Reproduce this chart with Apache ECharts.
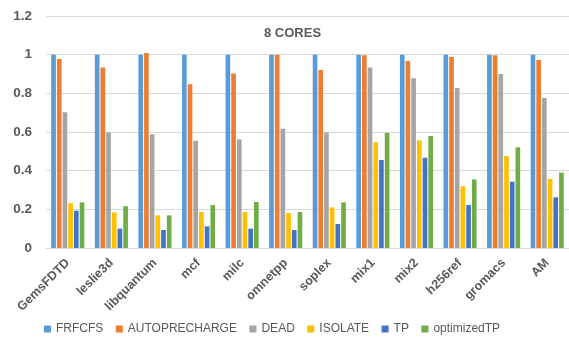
<!DOCTYPE html>
<html><head><meta charset="utf-8">
<script src="https://cdn.jsdelivr.net/npm/echarts@6/dist/echarts.min.js"></script>
<style>html,body{margin:0;padding:0;background:#fff}#c{width:569px;height:348px}</style>
</head><body><div id="c"></div>
<script>
const categories = ['GemsFDTD','leslie3d','libquantum','mcf','milc','omnetpp','soplex','mix1','mix2','h256ref','gromacs','AM'];
const seriesNames = ['FRFCFS','AUTOPRECHARGE','DEAD','ISOLATE','TP','optimizedTP'];
const FRFCFS        = [1,1,1,1,1,1,1,1,1,1,1,1];
const AUTOPRECHARGE = [0.978,0.934,1.008,0.847,0.902,1.0,0.921,0.997,0.967,0.988,0.997,0.972];
const DEAD          = [0.702,0.598,0.588,0.555,0.562,0.617,0.598,0.934,0.878,0.828,0.900,0.776];
const ISOLATE       = [0.232,0.184,0.169,0.186,0.186,0.181,0.210,0.547,0.557,0.319,0.476,0.357];
const TP            = [0.193,0.100,0.093,0.112,0.100,0.093,0.124,0.455,0.467,0.222,0.343,0.262];
const optimizedTP   = [0.236,0.216,0.169,0.222,0.238,0.186,0.236,0.595,0.579,0.355,0.521,0.390];
const yTicks = [0,0.2,0.4,0.6,0.8,1,1.2];
const colors = ['#5B9BD5','#ED7D31','#A5A5A5','#FFC000','#4472C4','#70AD47'];
const values = [FRFCFS,AUTOPRECHARGE,DEAD,ISOLATE,TP,optimizedTP];

const chart = echarts.init(document.getElementById('c'));
chart.setOption({
  animation:false,
  color: colors,
  title:{text:'8 CORES', left:259, top:22,
    textStyle:{fontFamily:'Liberation Sans', fontSize:13, fontWeight:'bold', color:'#595959'}},
  grid:{left:46, top:16, width:525, height:232, containLabel:false},
  legend:{data:seriesNames, top:318, left:39, itemWidth:7, itemHeight:7, itemGap:12.5, icon:'rect',
    textStyle:{fontFamily:'Liberation Sans', fontSize:12, color:'#595959', padding:[0,0,0,0]}},
  xAxis:{type:'category', data:categories,
    axisLine:{lineStyle:{color:'#D9D9D9'}}, axisTick:{show:false},
    axisLabel:{rotate:45, interval:0, margin:13, fontFamily:'Liberation Sans', fontSize:12.5, fontWeight:'bold', color:'#595959'}},
  yAxis:{type:'value', min:yTicks[0], max:yTicks[yTicks.length-1], interval:0.2,
    axisLine:{show:false}, axisTick:{show:false},
    splitLine:{lineStyle:{color:'#D9D9D9', width:1}},
    axisLabel:{margin:14, fontFamily:'Liberation Sans', fontSize:13.5, fontWeight:'bold', color:'#595959'}},
  series: seriesNames.map((n,i)=>({name:n, type:'bar', data:values[i], barGap:'22%', barCategoryGap:'24%'}))
});
</script></body></html>
